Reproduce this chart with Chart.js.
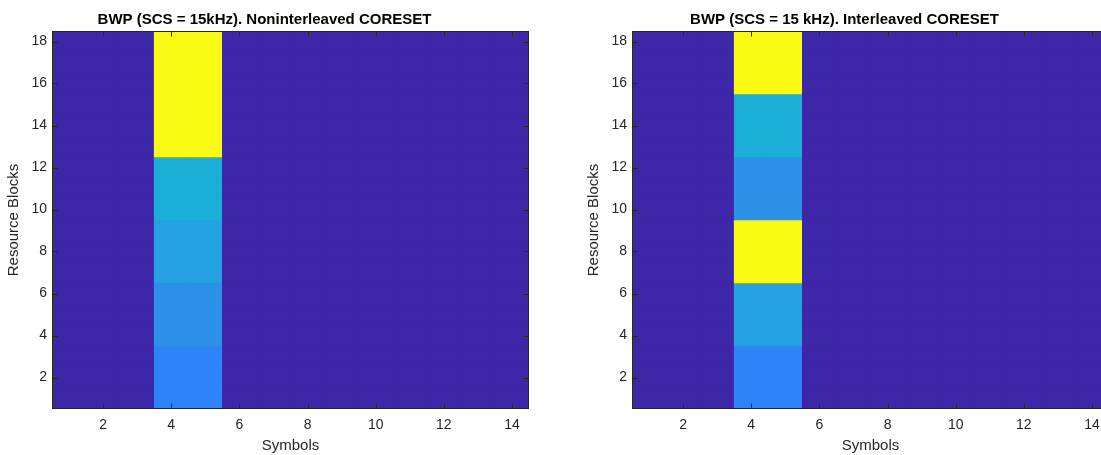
<!DOCTYPE html>
<html>
<head>
<meta charset="utf-8">
<script src="https://cdn.jsdelivr.net/npm/chart.js@4/dist/chart.umd.min.js"></script>
<style>
  html, body { margin: 0; padding: 0; background: #fff; overflow: hidden; width: 1101px; height: 455px; }
  .panel { position: absolute; top: 0; width: 540px; height: 455px; }
</style>
</head>
<body>
<div class="panel" style="left:0px"><canvas id="nonInterleaved" width="540" height="455"></canvas></div>
<div class="panel" style="left:580px"><canvas id="interleaved" width="540" height="455"></canvas></div>
<script>
// grid of the resource grid image
const symbols = [1, 2, 3, 4, 5, 6, 7, 8, 9, 10, 11, 12, 13, 14];
const resourceBlocks = [1, 2, 3, 4, 5, 6, 7, 8, 9, 10, 11, 12, 13, 14, 15, 16, 17, 18];
const coresetSymbols = [4, 5];
const xTicks = [2, 4, 6, 8, 10, 12, 14];
const yTicks = [2, 4, 6, 8, 10, 12, 14, 16, 18];

// colour level of each resource block inside the CORESET symbols (bottom RB first)
const nonInterleavedLevels = [1, 1, 1, 2, 2, 2, 3, 3, 3, 4, 4, 4, 5, 5, 5, 5, 5, 5];
const interleavedLevels = [1, 1, 1, 3, 3, 3, 5, 5, 5, 2, 2, 2, 4, 4, 4, 5, 5, 5];

// parula-like colours, level 0 = empty
const levelColors = ['#3E26A8', '#2F83F8', '#2C91E7', '#23A1E0', '#1AAED8', '#F9FB15'];

const FONT = 'Liberation Sans, Arial, Helvetica, sans-serif';
const AXIS = '#262626';

const buildCells = (levels) => {
  const cells = [];
  const colors = [];
  symbols.forEach((s) => {
    resourceBlocks.forEach((rb, i) => {
      const lvl = coresetSymbols.includes(s) ? levels[i] : 0;
      cells.push({x: s, y: [rb - 0.5, rb + 0.5]});
      colors.push(levelColors[lvl]);
    });
  });
  return {cells, colors};
};

// fills plot background and draws the matlab style box with inward ticks
const boxPlugin = {
  id: 'box',
  beforeDatasetsDraw(chart) {
    const {ctx, chartArea: a} = chart;
    ctx.save();
    ctx.fillStyle = levelColors[0];
    ctx.fillRect(a.left, a.top, a.right - a.left, a.bottom - a.top);
    ctx.restore();
  },
  afterDatasetsDraw(chart) {
    const {ctx, chartArea: a, scales} = chart;
    const L = Math.round(a.left) + 0.5, R = Math.round(a.right) - 0.5;
    const T = Math.round(a.top) + 0.5, B = Math.round(a.bottom) - 0.5;
    const tl = 5;
    ctx.save();
    ctx.strokeStyle = AXIS;
    ctx.lineWidth = 1;
    ctx.strokeRect(L, T, R - L, B - T);
    ctx.beginPath();
    xTicks.forEach((v) => {
      const px = Math.round(scales.x.getPixelForValue(v)) + 0.5;
      ctx.moveTo(px, B); ctx.lineTo(px, B - tl);
      ctx.moveTo(px, T); ctx.lineTo(px, T + tl);
    });
    yTicks.forEach((v) => {
      const py = Math.round(scales.y.getPixelForValue(v)) + 0.5;
      ctx.moveTo(L, py); ctx.lineTo(L + tl, py);
      ctx.moveTo(R, py); ctx.lineTo(R - tl, py);
    });
    ctx.stroke();
    ctx.restore();
  }
};

const makeChart = (id, title, levels) => {
  const {cells, colors} = buildCells(levels);
  return new Chart(document.getElementById(id), {
    type: 'bar',
    data: {
      datasets: [{
        data: cells,
        backgroundColor: colors,
        borderWidth: 0,
        barPercentage: 1,
        categoryPercentage: 1
      }]
    },
    options: {
      responsive: false,
      animation: false,
      devicePixelRatio: 1,
      layout: {padding: {left: 0, right: 11, top: 0, bottom: 0}},
      plugins: {
        legend: {display: false},
        tooltip: {enabled: false},
        title: {
          display: true,
          text: title,
          color: '#000',
          font: {family: FONT, size: 15, weight: 'bold'},
          padding: {top: 11, bottom: 2}
        }
      },
      scales: {
        x: {
          type: 'linear',
          min: 0.5,
          max: 14.5,
          offset: false,
          grid: {display: false, drawTicks: false},
          border: {display: false},
          afterBuildTicks: (scale) => { scale.ticks = xTicks.map((v) => ({value: v})); },
          afterFit: (scale) => { scale.height = 46; },
          ticks: {color: AXIS, font: {family: FONT, size: 14}, padding: 8, maxRotation: 0},
          title: {display: true, text: 'Symbols', color: AXIS, font: {family: FONT, size: 15}, padding: {top: 0, bottom: 0}}
        },
        y: {
          type: 'linear',
          min: 0.5,
          max: 18.5,
          grid: {display: false, drawTicks: false},
          border: {display: false},
          afterBuildTicks: (scale) => { scale.ticks = yTicks.map((v) => ({value: v})); },
          afterFit: (scale) => { scale.width = 52; },
          ticks: {color: AXIS, font: {family: FONT, size: 14}, padding: 5},
          title: {display: true, text: 'Resource Blocks', color: AXIS, font: {family: FONT, size: 15}, padding: {top: 5, bottom: 0}}
        }
      }
    },
    plugins: [boxPlugin]
  });
};

makeChart('nonInterleaved', 'BWP (SCS = 15kHz). Noninterleaved CORESET', nonInterleavedLevels);
makeChart('interleaved', 'BWP (SCS = 15 kHz). Interleaved CORESET', interleavedLevels);
</script>
</body>
</html>
